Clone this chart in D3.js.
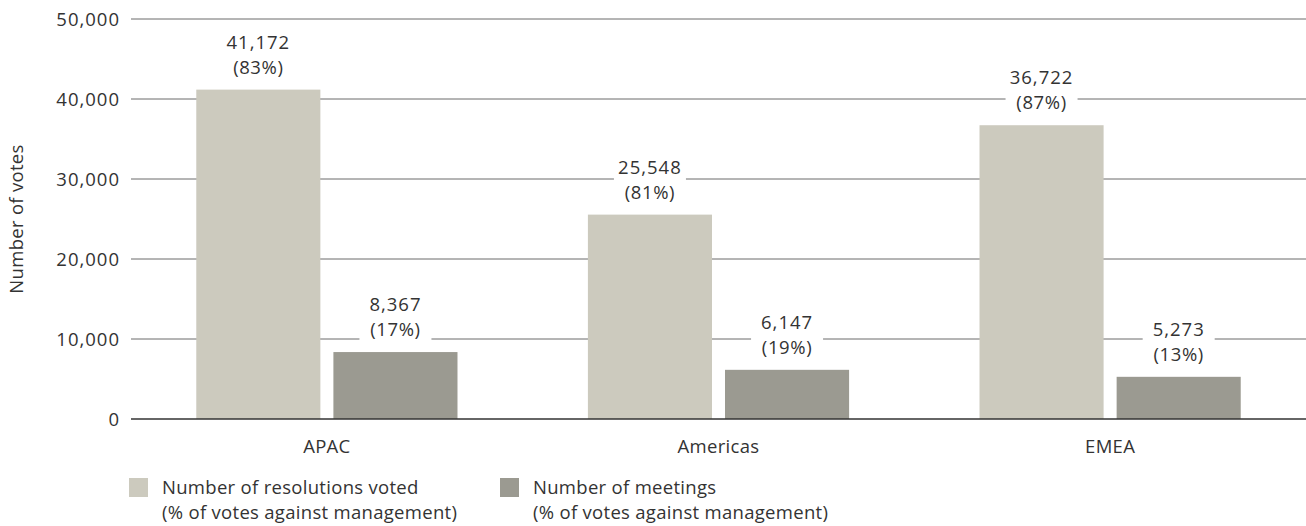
<!DOCTYPE html>
<html>
<head>
  <meta charset="utf-8">
  <title>Votes by region</title>
  <script src="https://d3js.org/d3.v7.min.js"></script>
  <style>
    body { margin: 0; background: #fff; }
    text { font-family: "Open Sans", sans-serif; font-weight: 400; fill: #333; }
  </style>
</head>
<body>
<div id="vis"></div>
<script>
// datos
var regions = ["APAC", "Americas", "EMEA"];
var resolutions = [41172, 25548, 36722];
var resolutionsPct = [83, 81, 87];
var meetings = [8367, 6147, 5273];
var meetingsPct = [17, 19, 13];
var yTicks = [0, 10000, 20000, 30000, 40000, 50000];
var seriesNames = ["Number of resolutions voted", "Number of meetings"];
var legendSub = "(% of votes against management)";
var colors = ["#cccabe", "#9b9a91"];

var W = 1306, H = 526;
var m = {top: 19, right: 0, bottom: 107, left: 131};
var fs = 18.5;

var rows = regions.map(function(r, i) {
  return {region: r, vals: [
    {s: 0, v: resolutions[i], p: resolutionsPct[i]},
    {s: 1, v: meetings[i], p: meetingsPct[i]}
  ]};
});

var svg = d3.select("#vis").append("svg")
  .attr("width", W)
  .attr("height", H);

var x0 = d3.scaleBand()
  .domain(regions)
  .range([m.left, W - m.right])
  .paddingInner(0.333)
  .paddingOuter(0.1667);

var x1 = d3.scaleBand()
  .domain([0, 1])
  .range([0, x0.bandwidth()])
  .paddingInner(0.095);

var y = d3.scaleLinear()
  .domain([0, 50000])
  .range([H - m.bottom, m.top]);

// grid lines
svg.append("g").selectAll("line").data(yTicks.slice(1)).enter().append("line")
  .attr("x1", m.left).attr("x2", W - m.right)
  .attr("y1", function(d) { return y(d); })
  .attr("y2", function(d) { return y(d); })
  .attr("stroke", "#6b6b6b")
  .attr("stroke-width", 1);

// y axis labels
var yAxis = svg.append("g")
  .attr("transform", "translate(" + m.left + ",0)")
  .call(d3.axisLeft(y).tickValues(yTicks).tickSize(0).tickPadding(11)
    .tickFormat(d3.format(",")));
yAxis.select(".domain").remove();
yAxis.selectAll("text")
  .attr("font-size", fs).attr("font-family", null).attr("fill", null)
  .attr("dy", "0.36em")
  .style("letter-spacing", "1px");

svg.append("text")
  .attr("transform", "translate(23," + ((m.top + H - m.bottom) / 2) + ") rotate(-90)")
  .attr("text-anchor", "middle")
  .attr("font-size", fs)
  .style("letter-spacing", "0.3px")
  .text("Number of votes");

// bars
var groups = svg.selectAll("g.reg").data(rows).enter().append("g")
  .attr("class", "reg")
  .attr("transform", function(d) { return "translate(" + x0(d.region) + ",0)"; });

groups.selectAll("rect").data(function(d) { return d.vals; }).enter().append("rect")
  .attr("x", function(d) { return x1(d.s); })
  .attr("y", function(d) { return y(d.v); })
  .attr("width", x1.bandwidth())
  .attr("height", function(d) { return y(0) - y(d.v); })
  .attr("fill", function(d) { return colors[d.s]; });

// value labels with white background
var labs = groups.selectAll("g.lab").data(function(d) { return d.vals; }).enter().append("g")
  .attr("class", "lab")
  .attr("transform", function(d) {
    return "translate(" + (x1(d.s) + x1.bandwidth() / 2) + "," + y(d.v) + ")";
  });

labs.append("rect")
  .attr("x", -36).attr("width", 72)
  .attr("y", -62).attr("height", 54)
  .attr("fill", "#fff");

labs.append("text")
  .attr("text-anchor", "middle")
  .attr("y", -41)
  .attr("font-size", fs)
  .style("letter-spacing", "1px")
  .text(function(d) { return d3.format(",")(d.v); });

labs.append("text")
  .attr("text-anchor", "middle")
  .attr("y", -16)
  .attr("font-size", fs)
  .style("letter-spacing", "0.6px")
  .text(function(d) { return "(" + d.p + "%)"; });

// baseline
svg.append("line")
  .attr("x1", m.left).attr("x2", W - m.right)
  .attr("y1", y(0)).attr("y2", y(0))
  .attr("stroke", "#333")
  .attr("stroke-width", 1.5);

// x labels
svg.selectAll("text.xl").data(regions).enter().append("text")
  .attr("class", "xl")
  .attr("x", function(d) { return x0(d) + x0.bandwidth() / 2; })
  .attr("y", H - m.bottom + 34)
  .attr("text-anchor", "middle")
  .attr("font-size", fs)
  .style("letter-spacing", "0.3px")
  .text(function(d) { return d; });

// legend
var leg = svg.selectAll("g.leg").data(seriesNames).enter().append("g")
  .attr("class", "leg")
  .attr("transform", function(d, i) { return "translate(" + (129 + i * 371) + ",478)"; });

leg.append("rect")
  .attr("width", 19).attr("height", 19)
  .attr("fill", function(d, i) { return colors[i]; });

leg.append("text")
  .attr("x", 33).attr("y", 16)
  .attr("font-size", fs)
  .style("letter-spacing", "0.3px")
  .text(function(d) { return d; });

leg.append("text")
  .attr("x", 33).attr("y", 41)
  .attr("font-size", fs)
  .style("letter-spacing", "0.3px")
  .text(legendSub);
</script>
</body>
</html>
